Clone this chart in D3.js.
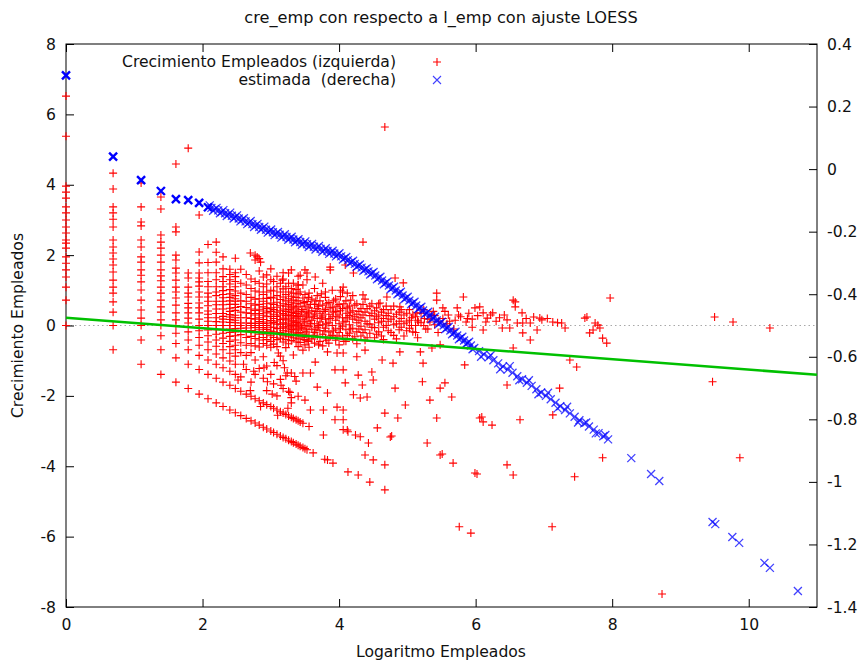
<!DOCTYPE html>
<html>
<head>
<meta charset="utf-8">
<script src="https://cdn.jsdelivr.net/npm/d3@7"></script>
<style>
  body { margin: 0; background: #fff; }
  text { font-family: "DejaVu Sans", Verdana, sans-serif; font-size: 15.6px; fill: #111; }
</style>
</head>
<body>
<svg id="chart" width="862" height="663"></svg>
<script>
// Texts
let title = 'cre_emp con respecto a l_emp con ajuste LOESS'
let xLabel = 'Logaritmo Empleados'
let yLabel = 'Crecimiento Empleados'
let legendRed = 'Crecimiento Empleados (izquierda)'
let legendBlue = 'estimada  (derecha)'

// Tick labels
const xTicks = [0, 2, 4, 6, 8, 10]
const leftTicks = [-8, -6, -4, -2, 0, 2, 4, 6, 8]
const rightTicks = [-1.4, -1.2, -1, -0.8, -0.6, -0.4, -0.2, 0, 0.2, 0.4]

// cre_emp (left axis): firms with few employees sit on vertical columns of l_emp
const lEmpCols = [0, 0.69, 1.1, 1.39, 1.61, 1.79, 1.95, 2.08, 2.2, 2.3, 2.4, 2.48, 2.56, 2.64, 2.71, 2.77,
  2.83, 2.89, 2.94, 3.0, 3.04, 3.09, 3.14, 3.18, 3.22, 3.26, 3.3, 3.33, 3.37, 3.4]
const creEmpCols = [
  [6.52, 5.38, 3.96, 3.79, 3.62, 3.37, 3.2, 3.0, 2.8, 2.63, 2.43, 2.34, 2.2, 1.95, 1.77, 1.58, 1.38, 1.09, 0.72, 0],
  [4.33, 3.88, 3.37, 3.2, 3.02, 2.8, 2.43, 2.23, 2.06, 1.89, 1.72, 1.52, 1.29, 1.09, 0.92, 0.67, 0.38, 0, -0.69],
  [4.05, 3.37, 2.94, 2.83, 2.43, 2.23, 1.95, 1.8, 1.58, 1.43, 1.24, 1.01, 0.72, 0.44, 0.21, 0, -0.41, -1.1],
  [3.65, 3.31, 2.57, 2.37, 2.2, 2.0, 1.8, 1.58, 1.41, 1.27, 1.09, 0.92, 0.72, 0.53, 0.38, 0.16, 0, -0.29, -0.69, -1.39],
  [4.59, 2.8, 2.66, 2.0, 1.86, 1.63, 1.49, 1.29, 1.09, 0.95, 0.78, 0.58, 0.36, 0.16, 0, -0.22, -0.51, -0.92, -1.61],
  [5.04, 1.49, 1.35, 1.09, 0.92, 0.81, 0.63, 0.5, 0.36, 0.21, 0.07, -0.18, -0.41, -0.69, -1.1, -1.79],
  [3.14, 2.09, 1.78, 1.49, 1.35, 1.24, 1.12, 0.95, 0.81, 0.64, 0.5, 0.36, 0.18, 0, -0.15, -0.34, -0.56, -0.85, -1.25, -1.95],
  [2.3, 1.79, 1.5, 1.25, 1.1, 0.92, 0.81, 0.69, 0.56, 0.41, 0.32, 0.22, 0.12, 0, -0.13, -0.29, -0.47, -0.69, -0.98, -1.39, -2.08],
  [2.37, 2.08, 1.8, 1.5, 1.3, 1.1, 0.95, 0.85, 0.69, 0.59, 0.47, 0.34, 0.22, 0.11, 0, -0.12, -0.25, -0.41, -0.59, -0.81, -1.1, -1.5, -2.2],
  [1.95, 1.61, 1.39, 1.25, 1.1, 0.99, 0.88, 0.79, 0.69, 0.59, 0.47, 0.34, 0.26, 0.18, 0.1, 0, -0.11, -0.22, -0.36, -0.51, -0.69, -0.92, -1.2, -1.61, -2.3],
  [1.6, 1.45, 1.3, 1.18, 1.02, 0.9, 0.8, 0.7, 0.6, 0.49, 0.4, 0.31, 0.24, 0.17, 0.09, 0, -0.1, -0.2, -0.31, -0.45, -0.6, -0.79, -1.01, -1.3, -1.7, -2.4],
  [1.91, 1.5, 1.39, 1.25, 1.1, 0.98, 0.85, 0.76, 0.69, 0.6, 0.51, 0.43, 0.29, 0.22, 0.15, 0.08, 0, -0.09, -0.18, -0.29, -0.41, -0.56, -0.69, -0.87, -1.1, -1.39, -1.79, -2.48],
  [1.6, 1.2, 0.92, 0.7, 0.54, 0.38, 0.22, 0.07, 0, -0.08, -0.26, -0.49, -0.77, -1.46, -1.87, -2.56],
  [1.45, 1.15, 0.88, 0.69, 0.51, 0.36, 0.22, 0.07, -0.07, -0.15, -0.34, -0.56, -0.85, -1.25, -1.95, -2.64],
  [1.32, 1.05, 0.8, 0.62, 0.47, 0.34, 0.2, 0.06, 0, -0.14, -0.31, -0.51, -0.77, -1.61, -2.01, -2.71],
  [2.0, 1.86, 1.25, 0.98, 0.75, 0.58, 0.43, 0.3, 0.18, 0.06, -0.06, -0.2, -0.37, -0.58, -0.98, -1.39, -2.08, -2.77],
  [1.9, 1.55, 1.2, 0.95, 0.76, 0.6, 0.46, 0.34, 0.22, 0.11, 0, -0.12, -0.25, -0.41, -0.61, -1.22, -2.14, -2.83],
  [1.38, 1.1, 0.88, 0.69, 0.53, 0.41, 0.29, 0.17, 0.06, -0.06, -0.18, -0.34, -0.51, -0.89, -1.5, -2.2, -2.89],
  [1.44, 1.18, 0.95, 0.77, 0.62, 0.48, 0.36, 0.25, 0.1, 0, -0.11, -0.24, -0.4, -0.56, -1.15, -1.85, -2.25, -2.94],
  [1.61, 1.3, 1.0, 0.8, 0.64, 0.5, 0.4, 0.26, 0.14, 0.05, -0.05, -0.16, -0.29, -0.45, -0.62, -1.39, -2.3, -3.0],
  [1.25, 0.98, 0.78, 0.6, 0.45, 0.32, 0.2, 0.09, -0.05, -0.18, -0.34, -0.53, -1.66, -2.35, -3.04],
  [1.4, 1.1, 0.85, 0.66, 0.52, 0.38, 0.26, 0.13, 0.04, -0.09, -0.22, -0.4, -0.6, -1.14, -2.0, -2.4, -3.09],
  [1.2, 0.95, 0.74, 0.56, 0.42, 0.3, 0.17, 0.04, -0.08, -0.2, -0.36, -0.87, -1.53, -2.45, -3.14],
  [1.5, 1.32, 1.04, 0.81, 0.62, 0.47, 0.34, 0.21, 0.08, -0.04, -0.15, -0.29, -0.47, -1.0, -1.79, -2.49, -3.18],
  [1.1, 0.88, 0.7, 0.55, 0.4, 0.28, 0.16, 0.04, -0.08, -0.22, -0.4, -0.63, -1.43, -2.53, -3.22],
  [1.49, 1.2, 0.95, 0.76, 0.6, 0.45, 0.32, 0.19, 0.07, -0.04, -0.16, -0.32, -0.52, -1.87, -2.57, -3.26],
  [1.58, 1.05, 0.83, 0.66, 0.5, 0.37, 0.24, 0.12, 0, -0.11, -0.25, -0.43, -1.35, -2.2, -2.61, -3.3],
  [1.2, 0.92, 0.72, 0.55, 0.41, 0.28, 0.15, 0.04, -0.07, -0.19, -0.35, -0.84, -2.64, -3.33],
  [1.02, 0.8, 0.62, 0.47, 0.34, 0.21, 0.09, -0.02, -0.13, -0.28, -0.47, -1.58, -2.68, -3.37],
  [1.4, 1.15, 0.9, 0.7, 0.53, 0.39, 0.26, 0.13, 0.01, -0.1, -0.22, -0.38, -0.6, -2.01, -2.71, -3.4]
]

// cre_emp (left axis) for larger firms: [l_emp, cre_emp]
const creEmpCloud = [
  [3.43,0.95],[3.43,0.62],[3.43,0.3],[3.43,0.05],[3.43,-0.2],[3.43,-0.48],[3.43,-3.43],[3.43,-2.74],
  [3.47,1.15],[3.47,0.78],[3.47,0.45],[3.47,0.18],[3.47,-0.08],[3.47,-0.33],[3.47,-0.7],[3.47,-3.47],[3.47,-2.78],
  [3.5,0.88],[3.5,0.55],[3.5,0.25],[3.5,0.0],[3.5,-0.25],[3.5,-0.55],[3.5,-3.5],[3.5,-2.12],
  [3.53,1.3],[3.53,0.68],[3.53,0.38],[3.53,0.12],[3.53,-0.12],[3.53,-0.42],[3.53,-3.53],[3.53,1.49],
  [3.56,0.92],[3.56,0.5],[3.56,0.22],[3.56,-0.02],[3.56,-0.3],[3.56,-0.62],[3.56,-2.87],
  [3.6,0.75],[3.6,0.42],[3.6,0.15],[3.6,-0.1],[3.6,-0.38],[3.58,-1.35],[3.58,-2.4],[3.62,-3.62],
  [3.64,1.05],[3.64,0.6],[3.64,0.3],[3.64,0.05],[3.64,-0.2],[3.64,-0.5],[3.65,-1.04],[3.65,1.38],
  [3.68,0.85],[3.68,0.48],[3.68,0.2],[3.68,-0.05],[3.68,-0.3],[3.68,-1.75],
  [3.72,0.7],[3.72,0.35],[3.72,0.1],[3.72,-0.15],[3.72,-0.45],
  [3.76,1.2],[3.76,0.58],[3.76,0.27],[3.76,0.02],[3.76,-0.25],[3.76,-0.58],[3.77,-2.4],[3.77,-3.11],[3.79,-3.8],
  [3.8,0.8],[3.8,0.45],[3.8,0.18],[3.8,-0.08],[3.8,-0.35],[3.8,0.95],[3.83,-0.75],[3.83,-1.92],[3.83,-3.82],
  [3.85,0.65],[3.85,0.32],[3.85,0.08],[3.85,-0.18],[3.85,-0.5],[3.87,1.58],[3.87,1.66],
  [3.9,1.0],[3.9,0.52],[3.9,0.25],[3.9,0.0],[3.9,-0.28],[3.91,-3.91],[3.94,-1.26],[3.94,-2.68],
  [3.95,0.75],[3.95,0.4],[3.95,0.15],[3.95,-0.1],[3.95,-0.42],[3.97,-0.78],[3.97,-2.32],
  [4.0,0.6],[4.0,0.3],[4.0,0.05],[4.0,-0.2],[4.0,-0.55],[4.02,1.0],
  [4.05,0.95],[4.05,0.48],[4.05,0.22],[4.05,-0.02],[4.05,-0.3],[4.06,-0.78],[4.06,-1.26],[4.06,-2.4],[4.06,-2.68],[4.06,1.09],[4.06,-2.96],
  [4.1,0.7],[4.1,0.35],[4.1,0.12],[4.1,-0.12],[4.1,-0.45],[4.09,-1.63],[4.12,-2.97],[4.12,0.92],[4.09,1.72],
  [4.15,0.55],[4.15,0.28],[4.15,0.02],[4.15,-0.22],[4.13,-4.16],[4.13,-3.02],
  [4.2,0.85],[4.2,0.42],[4.2,0.18],[4.2,-0.08],[4.2,-0.38],[4.21,-1.97],[4.21,1.49],[4.24,-3.11],
  [4.26,0.62],[4.26,0.32],[4.26,0.08],[4.26,-0.18],[4.26,-0.52],[4.26,-0.89],[4.28,-1.41],[4.28,-4.25],
  [4.32,0.48],[4.32,0.22],[4.32,-0.02],[4.32,-0.3],[4.31,-2.06],[4.31,-3.16],[4.34,-1.69],[4.35,2.37],[4.35,0.87],
  [4.38,0.75],[4.38,0.38],[4.38,0.12],[4.38,-0.12],[4.38,-0.42],[4.38,-0.7],[4.38,-3.68],[4.41,-2.03],
  [4.45,0.55],[4.45,0.28],[4.45,0.04],[4.45,-0.22],[4.43,-3.34],[4.45,-4.45],[4.48,-1.32],
  [4.52,0.42],[4.52,0.18],[4.52,-0.06],[4.52,-0.35],[4.5,-1.55],[4.5,-3.82],[4.56,-2.91],
  [4.58,0.62],[4.58,0.3],[4.58,0.08],[4.58,-0.18],[4.6,0.64],[4.63,-0.98],
  [4.65,0.45],[4.65,0.2],[4.65,-0.05],[4.65,-0.4],[4.67,5.64],[4.67,-2.49],[4.67,-3.96],[4.67,-4.67],
  [4.72,0.35],[4.72,0.12],[4.72,-0.15],[4.7,0.81],[4.75,-3.17],[4.77,-3.14],[4.79,-1.07],
  [4.8,0.55],[4.8,0.25],[4.8,0.02],[4.8,-0.28],[4.82,1.35],[4.82,-1.78],[4.86,-2.63],
  [4.88,0.38],[4.88,0.12],[4.88,-0.12],[4.89,0.53],[4.89,-0.75],[4.94,1.21],
  [4.95,0.3],[4.95,0.05],[4.95,-0.3],[4.97,-2.26],
  [5.03,0.45],[5.03,0.15],[5.03,-0.08],[5.08,0.3],[5.08,-0.18],
  [5.12,0.25],[5.12,0.0],[5.12,-0.2],[5.14,0.36],[5.16,0.1],[5.19,-0.75],
  [5.2,0.35],[5.2,0.08],[5.22,-1.6],[5.23,-1.07],[5.25,0.2],[5.27,-0.1],[5.29,-3.34],
  [5.3,0.18],[5.3,-0.1],[5.33,-2.12],[5.35,0.3],[5.36,-0.64],
  [5.4,0.28],[5.4,0.02],[5.43,0.92],[5.43,0.72],[5.43,-2.63],[5.46,0.12],[5.48,-0.55],[5.48,-1.78],[5.48,-3.68],
  [5.52,0.5],[5.52,0.2],[5.51,-3.65],[5.55,-1.63],[5.58,0.05],[5.6,0.3],[5.65,-2.03],[5.67,-3.91],
  [5.7,0.15],[5.73,0.5],[5.76,-5.72],[5.78,0.25],[5.82,0.81],[5.84,-1.12],[5.86,0.1],[5.9,0.35],[5.93,-5.9],
  [5.95,0.18],[5.99,0.5],[5.99,-4.19],[6.02,-4.22],[6.03,0.28],[6.06,0.53],[6.06,-2.63],[6.09,-2.6],[6.11,-0.13],
  [6.11,0.36],[6.11,-2.74],[6.15,0.1],[6.17,0.21],[6.22,0.3],[6.24,-2.83],[6.25,0.36],[6.3,0.12],[6.35,0.22],
  [6.39,-0.07],[6.42,0.3],[6.46,0.16],[6.46,-1.69],[6.46,-3.96],[6.5,-0.07],[6.55,0.72],[6.55,-0.64],[6.55,-4.25],
  [6.58,0.67],[6.58,0.53],[6.61,0.07],[6.65,-2.68],[6.68,0.36],[6.69,0.07],[6.69,-0.21],[6.74,0.2],[6.8,0.07],
  [6.8,-0.41],[6.85,0.24],[6.9,-0.13],[6.94,0.21],[6.97,0.16],[7.05,0.2],[7.12,-5.72],[7.13,0.1],[7.13,-2.54],
  [7.2,0.08],[7.23,-1.78],[7.26,0.07],[7.31,-0.07],[7.38,-0.98],[7.45,-4.3],[7.48,-1.18],[7.6,0.21],[7.63,0.24],
  [7.67,-0.21],[7.72,-0.13],[7.75,0.07],[7.79,0.01],[7.82,-0.07],[7.86,-0.36],[7.86,-3.76],[7.92,-0.5],[7.97,0.78],
  [8.73,-7.63],[9.47,-1.6],[9.5,0.24],[9.77,0.1],[9.87,-3.76],[10.31,-0.07],
  [2.7,2.06],[2.8,1.95],[2.85,1.8],[3.17,1.29],[3.4,1.15],[3.43,1.43],[3.11,-0.78],[3.24,-1.35],[3.47,-1.35],[3.5,1.58],
  [3.45,0.4],[3.45,-0.05],[3.49,0.65],[3.49,0.1],[3.49,-0.4],[3.52,0.3],[3.52,-0.18],[3.55,0.8],[3.55,0.35],[3.55,-0.45],
  [3.58,0.6],[3.58,0.05],[3.62,0.25],[3.62,-0.28],[3.66,0.7],[3.66,0.4],[3.66,-0.12],[3.7,0.55],[3.7,0.0],[3.7,-0.55],
  [3.74,0.9],[3.74,0.22],[3.78,0.4],[3.78,-0.15],[3.82,0.62],[3.82,0.05],[3.82,-0.42],[3.87,0.5],[3.87,0.2],[3.87,-0.3],
  [3.92,0.7],[3.92,0.38],[3.92,-0.15],[3.97,0.55],[3.97,0.25],[3.97,-0.3],[4.02,0.82],[4.02,0.42],[4.02,-0.08],
  [4.07,0.62],[4.07,0.1],[4.07,-0.45],[4.12,0.5],[4.12,0.22],[4.12,-0.28],[4.17,0.72],[4.17,0.38],[4.17,-0.1],
  [4.23,0.58],[4.23,0.25],[4.23,-0.32],[4.29,0.4],[4.29,0.15],[4.29,-0.1],[4.35,0.6],[4.35,0.3],[4.35,-0.2],
  [4.41,0.48],[4.41,0.05],[4.41,-0.35],[4.48,0.62],[4.48,0.35],[4.48,-0.05],[4.55,0.5],[4.55,0.25],[4.55,-0.25],
  [4.62,0.38],[4.62,0.12],[4.62,-0.3],[4.69,0.55],[4.69,0.28],[4.69,0.0],[4.76,0.45],[4.76,0.18],[4.76,-0.2],
  [4.84,0.32],[4.84,0.05],[4.84,-0.38],[4.91,0.45],[4.91,0.2],[4.91,-0.05],[4.99,0.35],[4.99,0.1],[4.99,-0.15],
  [5.06,0.22],[5.06,0.0],[5.15,0.15],[5.15,-0.35],[5.24,0.45],[5.24,0.0],[5.33,0.1],[5.38,0.4],[5.45,-0.2],
  [5.55,0.4],[5.62,0.12],[5.68,-0.1],[5.75,0.3],[5.88,0.2],[5.95,-0.05],
  [2.6,-1.1],[2.75,-1.3],[2.9,-1.2],[2.95,-1.6],[3.05,-1.05],[3.15,-1.7],[3.2,-1.2],[3.28,-1.9],
  [3.35,-1.45],[3.3,-2.05],[2.7,-1.85],[2.85,-2.3],[3.1,-2.55],[3.25,-2.35],[2.52,-1.55],[3.02,-1.95]
]

// estimada (right axis): [l_emp, estimate]
const estimada = [
  [0,0.30],[0.69,0.04],[1.1,-0.035],[1.39,-0.07],[1.61,-0.096],[1.79,-0.099],[1.95,-0.108],[2.08,-0.122],
  [2.13,-0.124],[2.18,-0.128],[2.23,-0.132],[2.28,-0.137],[2.33,-0.141],[2.38,-0.145],[2.43,-0.149],[2.48,-0.153],
  [2.53,-0.158],[2.58,-0.162],[2.63,-0.167],[2.68,-0.171],[2.73,-0.176],[2.78,-0.18],[2.83,-0.185],[2.88,-0.189],
  [2.93,-0.194],[2.98,-0.198],[3.03,-0.202],[3.08,-0.206],[3.13,-0.21],[3.18,-0.214],[3.23,-0.217],[3.28,-0.221],
  [3.33,-0.225],[3.38,-0.229],[3.43,-0.233],[3.48,-0.237],[3.53,-0.24],[3.58,-0.244],[3.63,-0.248],[3.68,-0.251],
  [3.73,-0.255],[3.78,-0.259],[3.83,-0.262],[3.88,-0.266],[3.93,-0.27],[3.98,-0.274],[4.03,-0.279],[4.08,-0.285],
  [4.13,-0.291],[4.18,-0.297],[4.23,-0.303],[4.28,-0.309],[4.33,-0.315],[4.38,-0.321],[4.43,-0.327],[4.48,-0.333],
  [4.53,-0.34],[4.58,-0.348],[4.63,-0.356],[4.68,-0.364],[4.73,-0.372],[4.78,-0.38],[4.83,-0.388],[4.88,-0.396],
  [4.93,-0.404],[4.98,-0.412],[5.03,-0.42],[5.08,-0.428],[5.13,-0.436],[5.18,-0.444],[5.23,-0.452],[5.28,-0.46],
  [5.33,-0.468],[5.38,-0.476],[5.43,-0.484],[5.48,-0.492],[5.53,-0.5],[5.58,-0.508],[5.63,-0.516],[5.68,-0.524],
  [5.73,-0.532],[5.78,-0.54],[5.83,-0.548],[5.88,-0.556],[5.93,-0.564],[5.98,-0.572],
  [2.105,-0.116],[2.155,-0.133],[2.205,-0.124],[2.255,-0.141],[2.305,-0.131],[2.355,-0.15],[2.405,-0.139],[2.455,-0.158],
  [2.505,-0.148],[2.555,-0.167],[2.605,-0.157],[2.655,-0.176],[2.705,-0.166],[2.755,-0.185],[2.805,-0.175],[2.855,-0.194],
  [2.905,-0.184],[2.955,-0.203],[3.005,-0.193],[3.055,-0.211],[3.105,-0.201],[3.155,-0.219],[3.205,-0.208],[3.255,-0.226],
  [3.305,-0.216],[3.355,-0.234],[3.405,-0.224],[3.455,-0.242],[3.505,-0.231],[3.555,-0.249],[3.605,-0.239],[3.655,-0.257],
  [3.705,-0.246],[3.755,-0.264],[3.805,-0.253],[3.855,-0.271],[3.905,-0.261],[3.955,-0.279],[4.005,-0.269],[4.055,-0.289],
  [4.105,-0.281],[4.155,-0.301],[4.205,-0.293],[4.255,-0.313],[4.305,-0.305],[4.355,-0.325],[4.405,-0.317],[4.455,-0.337],
  [4.505,-0.329],[4.555,-0.352],[4.605,-0.344],[4.655,-0.368],[4.705,-0.36],[4.755,-0.384],[4.805,-0.376],[4.855,-0.4],
  [4.905,-0.392],[4.955,-0.416],[5.005,-0.408],[5.055,-0.432],[5.105,-0.424],[5.155,-0.448],[5.205,-0.44],[5.255,-0.464],
  [5.305,-0.456],[5.355,-0.48],[5.405,-0.472],[5.455,-0.496],[5.505,-0.488],[5.555,-0.512],[5.605,-0.504],[5.655,-0.528],
  [5.705,-0.52],[5.755,-0.544],[5.805,-0.536],[5.855,-0.56],[5.905,-0.552],[5.955,-0.576],
  [6.05,-0.582],[6.12,-0.592],[6.19,-0.602],[6.26,-0.611],[6.33,-0.621],[6.4,-0.631],[6.47,-0.641],[6.54,-0.651],
  [6.61,-0.662],[6.68,-0.672],[6.75,-0.683],[6.82,-0.693],[6.89,-0.704],[6.96,-0.714],[7.03,-0.725],[7.1,-0.736],
  [7.17,-0.747],[7.24,-0.758],[7.31,-0.77],[7.38,-0.781],[7.45,-0.792],[7.52,-0.803],[7.59,-0.813],[7.66,-0.823],
  [7.73,-0.833],[7.8,-0.844],[7.87,-0.854],[7.94,-0.864],
  [6.08,-0.6],[6.22,-0.595],[6.36,-0.64],[6.5,-0.63],[6.64,-0.675],[6.78,-0.675],[6.92,-0.72],[7.06,-0.715],
  [7.2,-0.765],[7.34,-0.76],[7.5,-0.81],[7.62,-0.81],[7.76,-0.845],[7.9,-0.85],
  [8.28,-0.924],[8.57,-0.975],[8.69,-0.997],[9.47,-1.128],[9.51,-1.135],[9.76,-1.176],[9.86,-1.195],
  [10.23,-1.259],[10.31,-1.275],[10.72,-1.349]
]

// LOESS fit (left axis)
const loessX = [0, 11]
const loessY = [0.22, -1.4]

let margin = {top: 44, right: 45, bottom: 56, left: 66}
let width = 862
let height = 663

let svg = d3.select('#chart')

let x = d3.scaleLinear().domain([0, 11]).range([margin.left, width - margin.right])
let yL = d3.scaleLinear().domain([-8, 8]).range([height - margin.bottom, margin.top])
let yR = d3.scaleLinear().domain([-1.4, 0.4]).range([height - margin.bottom, margin.top])

// dotted zero line
svg.append('line')
   .attr('x1', x(0)).attr('x2', x(11))
   .attr('y1', yL(0)).attr('y2', yL(0))
   .attr('stroke', '#a8a8a8')
   .attr('stroke-width', 1)
   .attr('stroke-dasharray', '1.5,3')

// Axes, ticks pointing inside like gnuplot
let fmt = d => String(d)
svg.append('g')
   .attr('transform', `translate(0, ${yL(-8)})`)
   .call(d3.axisBottom(x).tickValues(xTicks).tickSize(-8).tickPadding(12).tickFormat(fmt))
svg.append('g')
   .attr('transform', `translate(0, ${yL(8)})`)
   .call(d3.axisTop(x).tickValues(xTicks).tickSize(-8).tickFormat(''))
svg.append('g')
   .attr('transform', `translate(${x(0)}, 0)`)
   .call(d3.axisLeft(yL).tickValues(leftTicks).tickSize(-8).tickPadding(10).tickFormat(fmt))
svg.append('g')
   .attr('transform', `translate(${x(11)}, 0)`)
   .call(d3.axisRight(yR).tickValues(rightTicks).tickSize(-8).tickPadding(10).tickFormat(fmt))

svg.selectAll('.domain').remove()
svg.selectAll('.tick line').attr('stroke', '#000')
svg.selectAll('.tick text').style('font-family', '"DejaVu Sans", Verdana, sans-serif').style('font-size', '15.6px').attr('fill', '#111')

svg.append('rect')
   .attr('x', x(0)).attr('y', yL(8))
   .attr('width', x(11) - x(0)).attr('height', yL(-8) - yL(8))
   .attr('fill', 'none').attr('stroke', '#000').attr('stroke-width', 1)

// red points
let redPts = []
lEmpCols.forEach((lx, i) => creEmpCols[i].forEach(v => redPts.push([lx, v])))
creEmpCloud.forEach(p => redPts.push(p))

let plus = 'M-4,0H4M0,-4V4'
let cross = 'M-4,-4L4,4M-4,4L4,-4'

svg.append('g').selectAll('path')
   .data(redPts)
   .enter()
   .append('path')
   .attr('d', plus)
   .attr('transform', d => `translate(${x(d[0])}, ${yL(d[1])})`)
   .attr('stroke', '#ff0000')
   .attr('stroke-width', 1.1)
   .attr('fill', 'none')

svg.append('g').selectAll('path')
   .data(estimada)
   .enter()
   .append('path')
   .attr('d', cross)
   .attr('transform', d => `translate(${x(d[0])}, ${yR(d[1])})`)
   .attr('stroke', '#0000ff')
   .attr('stroke-opacity', d => d[0] <= 2.1 ? 1 : 0.75)
   .attr('stroke-width', d => d[0] <= 2.1 ? 2.4 : 1.3)
   .attr('fill', 'none')

// LOESS line
let line = d3.line().x(d => x(d[0])).y(d => yL(d[1]))
svg.append('path')
   .datum(loessX.map((v, i) => [v, loessY[i]]))
   .attr('d', line)
   .attr('stroke', '#00c000')
   .attr('stroke-width', 2.6)
   .attr('fill', 'none')

// Titles
svg.append('text')
   .attr('x', width / 2 + 10).attr('y', 23)
   .attr('text-anchor', 'middle')
   .style('font-size', '16.2px')
   .text(title)
svg.append('text')
   .attr('x', width / 2 + 10).attr('y', 657)
   .attr('text-anchor', 'middle')
   .text(xLabel)
svg.append('text')
   .attr('transform', `translate(23, ${yL(0)}) rotate(-90)`)
   .attr('text-anchor', 'middle')
   .text(yLabel)

// Legend
let legend = svg.append('g')
legend.append('text')
   .attr('x', 396).attr('y', 67)
   .attr('text-anchor', 'end')
   .text(legendRed)
legend.append('text')
   .attr('x', 396).attr('y', 85)
   .attr('text-anchor', 'end')
   .style('white-space', 'pre')
   .text(legendBlue)
legend.append('path')
   .attr('d', plus).attr('transform', 'translate(437, 62)')
   .attr('stroke', '#ff0000').attr('stroke-width', 1.1)
legend.append('path')
   .attr('d', cross).attr('transform', 'translate(437, 80)')
   .attr('stroke', '#0000ff').attr('stroke-opacity', 0.75).attr('stroke-width', 1.1)
</script>
</body>
</html>
